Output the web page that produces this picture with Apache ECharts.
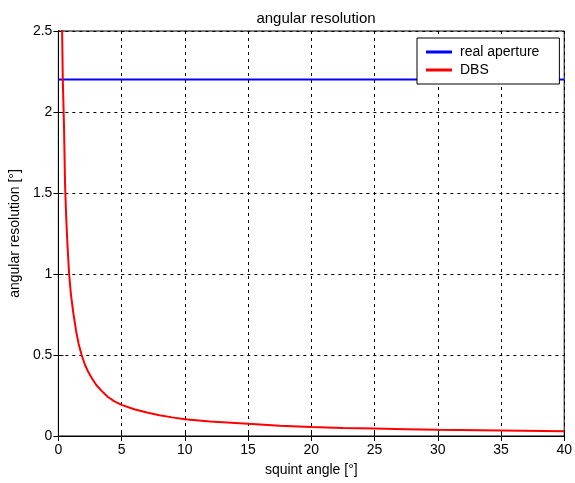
<!DOCTYPE html>
<html>
<head>
<meta charset="utf-8">
<script src="https://cdn.jsdelivr.net/npm/echarts@6/dist/echarts.min.js"></script>
<style>
html,body{margin:0;padding:0;background:#fff;}
#c{width:575px;height:483px;}
</style>
</head>
<body>
<div id="c"></div>
<script>
var xTicks = [0, 5, 10, 15, 20, 25, 30, 35, 40];
var yTicks = [0, 0.5, 1, 1.5, 2, 2.5];
var realApertureX = [0, 40];
var realApertureY = [2.2, 2.2];
var dbsX = [0.25, 0.28, 0.35, 0.45, 0.53, 0.62, 0.72, 0.85, 1.0, 1.2, 1.4, 1.6, 1.84, 2.1, 2.4, 2.7, 3.0, 3.4, 3.9, 4.4, 5.0, 6, 7, 8, 9, 10, 12, 15, 17.5, 20, 22.5, 25, 27.5, 30, 35, 40];
var dbsY = [3.0, 2.6, 2.2, 1.9, 1.55, 1.35, 1.18, 1.0, 0.87, 0.75, 0.65, 0.57, 0.5, 0.44, 0.39, 0.35, 0.315, 0.28, 0.242, 0.215, 0.192, 0.165, 0.145, 0.128, 0.115, 0.104, 0.09, 0.075, 0.063, 0.055, 0.05, 0.046, 0.042, 0.038, 0.034, 0.030];

function pairs(xs, ys){ return xs.map(function(x,i){ return [x, ys[i]]; }); }

var font = 'Liberation Sans, Arial, sans-serif';
var chart = echarts.init(document.getElementById('c'), null, {renderer:'canvas'});
chart.setOption({
  animation: false,
  backgroundColor: '#fff',
  title: {
    text: 'angular resolution', left: 311, top: 6, textAlign: 'center',
    textStyle: {fontFamily: font, fontSize: 15, fontWeight: 'normal', color: '#000'}
  },
  grid: {left: 56, right: 8, top: 31, bottom: 47, show: true, borderColor: '#000', borderWidth: 1, backgroundColor: '#fff'},
  legend: {
    orient: 'vertical', left: 417, top: 38,
    backgroundColor: '#fff', borderColor: '#000', borderWidth: 1,
    padding: [7, 20, 7, 9], itemGap: 4, itemWidth: 26, itemHeight: 3,
    textStyle: {fontFamily: font, fontSize: 14, color: '#000', padding: [0,0,0,3]},
    data: [{name: 'real aperture', icon: 'rect'}, {name: 'DBS', icon: 'rect'}]
  },
  xAxis: [{
    type: 'value', min: 0, max: 40, interval: 5,
    name: 'squint angle [°]', nameLocation: 'middle', nameGap: 27,
    nameTextStyle: {fontFamily: font, fontSize: 14, color: '#000'},
    axisLine: {show: true, onZero: false, lineStyle: {color: '#000'}},
    axisTick: {show: true, inside: true, length: 5, lineStyle: {color: '#000'}},
    axisLabel: {fontFamily: font, fontSize: 14, color: '#000', margin: 7, formatter: function(v){ return xTicks.indexOf(v) >= 0 ? String(v) : ''; }},
    splitLine: {show: true, lineStyle: {color: '#000', type: [3, 4], width: 1}}
  }, {
    type: 'value', min: 0, max: 40, interval: 5, position: 'top',
    axisLine: {show: true, lineStyle: {color: '#000'}},
    axisTick: {show: true, inside: true, length: 5, lineStyle: {color: '#000'}},
    axisLabel: {show: false}, splitLine: {show: false}
  }],
  yAxis: [{
    type: 'value', min: 0, max: 2.5, interval: 0.5,
    name: 'angular resolution [°]', nameLocation: 'middle', nameGap: 34,
    nameTextStyle: {fontFamily: font, fontSize: 14, color: '#000'},
    axisLine: {show: true, onZero: false, lineStyle: {color: '#000'}},
    axisTick: {show: true, inside: true, length: 5, lineStyle: {color: '#000'}},
    axisLabel: {fontFamily: font, fontSize: 14, color: '#000', margin: 6, formatter: function(v){ return yTicks.indexOf(v) >= 0 ? String(v) : ''; }},
    splitLine: {show: true, lineStyle: {color: '#000', type: [3, 4], width: 1}}
  }, {
    type: 'value', min: 0, max: 2.5, interval: 0.5, position: 'right',
    axisLine: {show: true, lineStyle: {color: '#000'}},
    axisTick: {show: true, inside: true, length: 5, lineStyle: {color: '#000'}},
    axisLabel: {show: false}, splitLine: {show: false}
  }],
  series: [{
    name: 'real aperture', type: 'line', data: pairs(realApertureX, realApertureY),
    showSymbol: false, symbol: 'none', color: '#0000ff', lineStyle: {color: '#0000ff', width: 2}, z: 3
  }, {
    name: 'DBS', type: 'line', data: pairs(dbsX, dbsY), smooth: false, clip: true,
    showSymbol: false, symbol: 'none', color: '#ff0000', lineStyle: {color: '#ff0000', width: 2}, z: 4
  }]
});
</script>
</body>
</html>
